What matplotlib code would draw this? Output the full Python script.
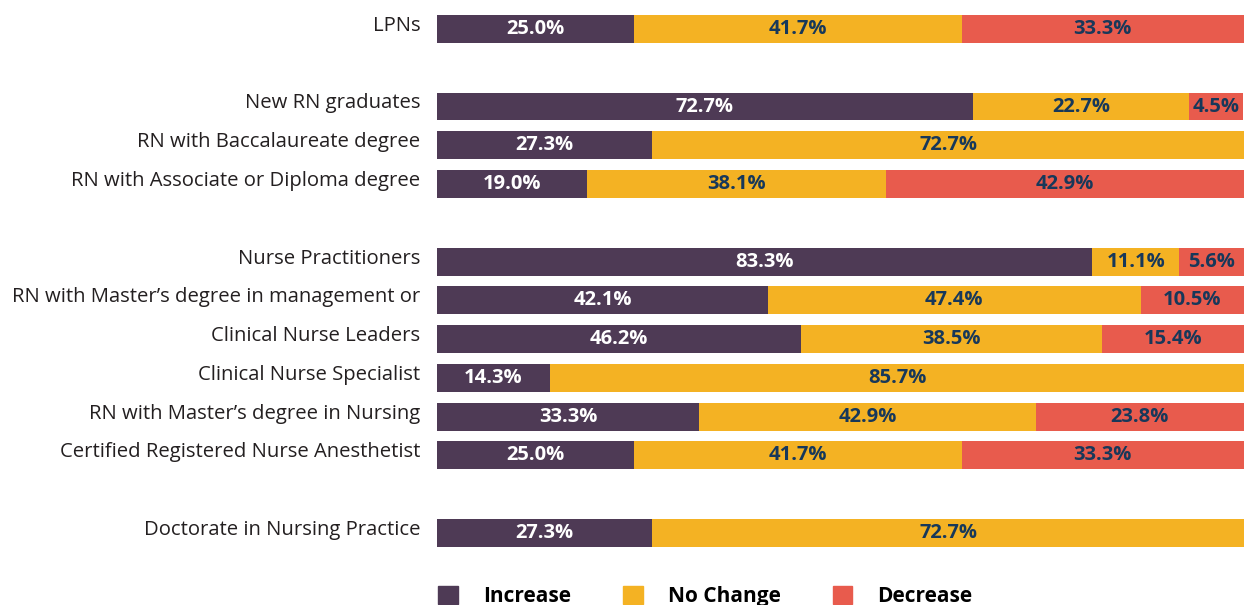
import matplotlib.pyplot as plt
import matplotlib.transforms as mtransforms
from matplotlib.patches import Patch

# categories (top to bottom) and their row slots (gaps between groups)
categories = ["LPNs", "New RN graduates", "RN with Baccalaureate degree",
              "RN with Associate or Diploma degree", "Nurse Practitioners",
              "RN with Master\u2019s degree in management or", "Clinical Nurse Leaders",
              "Clinical Nurse Specialist", "RN with Master\u2019s degree in Nursing",
              "Certified Registered Nurse Anesthetist", "Doctorate in Nursing Practice"]
rows = [0, 2, 3, 4, 6, 7, 8, 9, 10, 11, 13]

# printed percentages
increase_pct = [25.0, 72.7, 27.3, 19.0, 83.3, 42.1, 46.2, 14.3, 33.3, 25.0, 27.3]
nochange_pct = [41.7, 22.7, 72.7, 38.1, 11.1, 47.4, 38.5, 85.7, 42.9, 41.7, 72.7]
decrease_pct = [33.3, 4.5, 0, 42.9, 5.6, 10.5, 15.4, 0, 23.8, 33.3, 0]

# segment lengths as drawn in the original (share of full bar)
increase_w = [24.4, 66.4, 26.7, 18.6, 81.2, 41.0, 45.1, 14.0, 32.5, 24.4, 26.7]
nochange_w = [40.6, 26.8, 73.3, 37.0, 10.8, 46.2, 37.3, 86.0, 41.7, 40.6, 73.3]
decrease_w = [35.0, 6.7, 0, 44.4, 8.0, 12.8, 17.6, 0, 25.8, 35.0, 0]

purple = "#4e3a55"
yellow = "#f4b223"
red = "#e85b4d"
navy = "#17385a"

plt.rcParams['font.family'] = ['Open Sans', 'DejaVu Sans']

fig = plt.figure(figsize=(12.44, 6.05), dpi=100)
ax = fig.add_axes([437 / 1244, 0, 807 / 1244, 1])

h = 0.72
left2 = [a for a in increase_w]
left3 = [a + b for a, b in zip(increase_w, nochange_w)]
b1 = ax.barh(rows, increase_w, height=h, color=purple, label="Increase")
b2 = ax.barh(rows, nochange_w, left=left2, height=h, color=yellow, label="No Change")
b3 = ax.barh(rows, decrease_w, left=left3, height=h, color=red, label="Decrease")

def fmt(vals):
    return [f"{v:.1f}%" if v > 0 else "" for v in vals]

lab_font = dict(fontsize=14.5, fontweight="bold")
ax.bar_label(b1, labels=fmt(increase_pct), label_type="center", color="white", **lab_font)
ax.bar_label(b2, labels=fmt(nochange_pct), label_type="center", color=navy, **lab_font)
ax.bar_label(b3, labels=fmt(decrease_pct), label_type="center", color=navy, **lab_font)

ax.set_xlim(0, 100)
ax.set_ylim(14.86, -0.748)
ax.set_yticks(rows)
ax.set_yticklabels(categories, fontsize=14.6, color="#231f20")
ax.tick_params(axis="y", length=0, pad=12)
ax.set_xticks([])
for s in ax.spines.values():
    s.set_visible(False)

# labels sit a little above the bar centre in the original
shift = mtransforms.ScaledTranslation(0, 4 / 72, fig.dpi_scale_trans)
for t in ax.get_yticklabels():
    t.set_transform(t.get_transform() + shift)

handles = [Patch(color=purple), Patch(color=yellow), Patch(color=red)]
fig.legend(handles, ["Increase", "No Change", "Decrease"], ncol=3,
           loc="upper left", bbox_to_anchor=(438 / 1244, 19 / 605),
           frameon=False, prop={"weight": "bold", "size": 15},
           handlelength=0.95, handleheight=0.95, handletextpad=1.2,
           columnspacing=2.5, borderpad=0, borderaxespad=0)

fig.savefig("out.png", dpi=100)
